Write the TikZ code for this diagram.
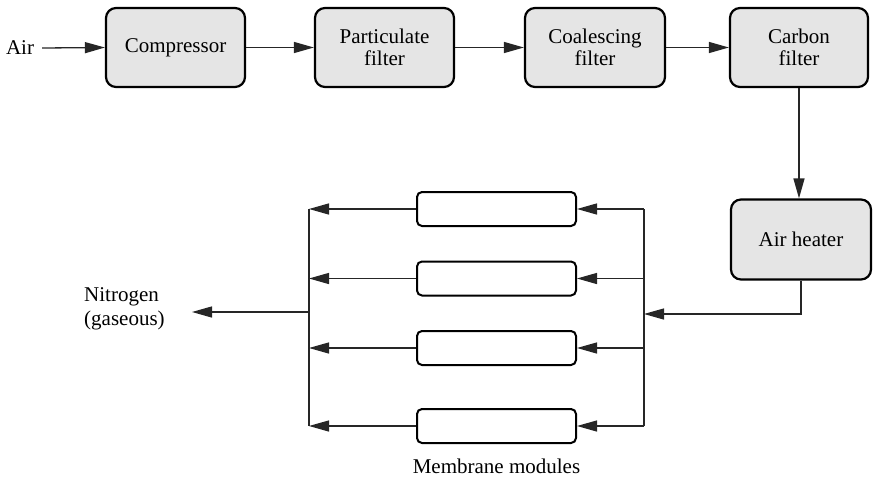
\documentclass[tikz,border=0pt]{standalone}
\usepackage{fontspec}
\IfFontExistsTF{LiberationSerif-Regular.ttf}
  {\setmainfont{LiberationSerif-Regular.ttf}[BoldFont=LiberationSerif-Bold.ttf]}
  {\setmainfont{Liberation Serif}}
\usetikzlibrary{arrows.meta}
\begin{document}
\begin{tikzpicture}[x=1pt,y=-1pt,
  unit/.style={draw=black, line width=2.2pt, fill=gray!20, rounded corners=10pt,
    minimum height=79pt, align=center, font=\rmfamily\fontsize{21}{22}\selectfont, inner sep=0pt},
  module/.style={draw=black, line width=2pt, fill=white, rounded corners=5pt,
    minimum width=159pt, minimum height=34pt, inner sep=0pt},
  lbl/.style={font=\rmfamily\fontsize{21}{24}\selectfont, align=left, inner sep=0pt},
  flow/.style={draw=black!85, line width=1.3pt, -{Triangle[length=20pt,width=11pt]}},
  wire/.style={draw=black!85, line width=1.3pt}]
\useasboundingbox (0,0) rectangle (876,485);
\node[lbl] (air) at (20,48) {Air};
\node[unit, minimum width=139pt] (comp) at (175.5,47.5) {Compressor};
\node[unit, minimum width=139pt] (part) at (384.5,47.5) {Particulate\\filter};
\node[unit, minimum width=140pt] (coal) at (595,47.5) {Coalescing\\filter};
\node[unit, minimum width=138pt] (carb) at (799,47.5) {Carbon\\filter};
\node[unit, minimum width=140pt, minimum height=80pt] (heat) at (801,239.5) {Air heater};
\node[module] (m1) at (496.5,209) {};
\node[module] (m2) at (496.5,278.5) {};
\node[module] (m3) at (496.5,348) {};
\node[module] (m4) at (496.5,426) {};
\node[lbl] (mm) at (496.5,466) {Membrane modules};
\node[lbl, anchor=west] (n2) at (84,309) {Nitrogen\\(gaseous)};
\coordinate (rt) at (644,209);
\coordinate (rb) at (644,426);
\coordinate (rj) at (644,314);
\coordinate (lt) at (309,209);
\coordinate (lb) at (309,426);
\coordinate (lj) at (309,312);
\coordinate (ntip) at (192,312);
\draw[flow] (air.east) ++(8pt,0) -- (comp.west);
\draw[flow] (comp) -- (part);
\draw[flow] (part) -- (coal);
\draw[flow] (coal) -- (carb);
\draw[flow] (carb.south) -- (carb.south |- heat.north);
\draw[flow] (heat.south) |- (rj);
\draw[wire] (rt) -- (rb);
\draw[wire] (lt) -- (lb);
\foreach \m in {m1,m2,m3,m4}{
  \draw[flow] (rt |- \m) -- (\m.east);
  \draw[flow] (\m.west) -- (lt |- \m);
}
\draw[flow] (lj) -- (ntip);
\end{tikzpicture}
\end{document}
